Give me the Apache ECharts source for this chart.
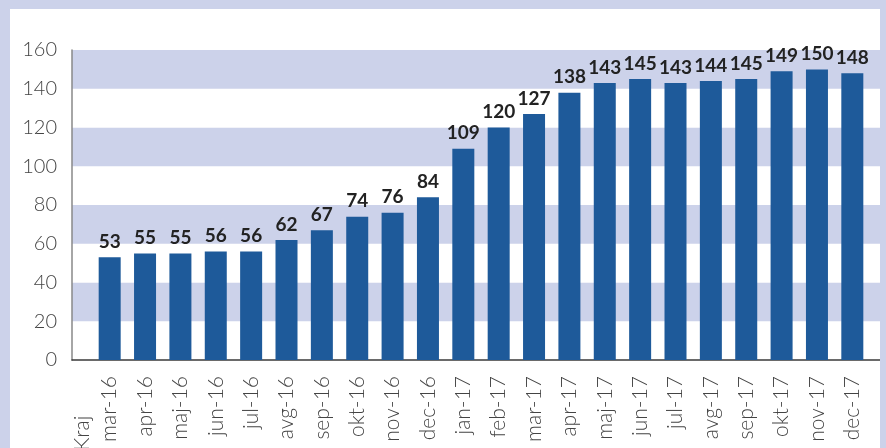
<!DOCTYPE html>
<html>
<head>
<meta charset="utf-8">
<script src="https://cdn.jsdelivr.net/npm/echarts@6/dist/echarts.min.js"></script>
<style>
    html, body { margin: 0; padding: 0; background: #ccd2ea; }
    #chart {
        width: 886px; height: 448px; box-sizing: border-box;
        border-style: solid; border-color: #ccd2ea; border-width: 9px 6px 0 10px;
        background: #fff;
    }
</style>
</head>
<body>
<div id="chart"></div>
<script>
// podatki
const months = ["mar-16", "apr-16", "maj-16", "jun-16", "jul-16", "avg-16", "sep-16", "okt-16",
    "nov-16", "dec-16", "jan-17", "feb-17", "mar-17", "apr-17", "maj-17", "jun-17",
    "jul-17", "avg-17", "sep-17", "okt-17", "nov-17", "dec-17"]
const values = [53, 55, 55, 56, 56, 62, 67, 74, 76, 84, 109, 120, 127, 138, 143, 145,
    143, 144, 145, 149, 150, 148]
const yTicks = [0, 20, 40, 60, 80, 100, 120, 140, 160]

const font = "Lato, 'Open Sans', sans-serif"
let chart = echarts.init(document.getElementById("chart"))
let option = {
    animation: false,
    textStyle: { fontFamily: font },
    grid: [
        { left: 62, right: 0, top: 41, bottom: 88 },   // bands + y axis
        { left: 82, right: 10, top: 41, bottom: 88 }   // bars
    ],
    xAxis: [
        {
            gridIndex: 0, type: "category", data: [""],
            axisLine: { lineStyle: { color: "#3a3a3a", width: 1.5 } },
            axisTick: { show: false }, axisLabel: { show: false }
        },
        {
            gridIndex: 1, type: "category", data: months,
            axisLine: { show: false }, axisTick: { show: false },
            axisLabel: {
                rotate: 90, interval: 0, margin: 16,
                fontSize: 21, color: "#444", fontWeight: 300, fontFamily: font
            }
        }
    ],
    yAxis: [
        {
            gridIndex: 0, type: "value", min: yTicks[0], max: yTicks[yTicks.length - 1], interval: 20,
            axisLine: { show: true, lineStyle: { color: "#888", width: 1.5 } },
            axisTick: { show: false },
            axisLabel: { fontSize: 20, color: "#444", margin: 15, fontWeight: 300, fontFamily: font },
            splitLine: { show: false },
            splitArea: { show: true, areaStyle: { color: ["#ffffff", "#ccd2ea"] } }
        },
        {
            gridIndex: 1, type: "value", min: yTicks[0], max: yTicks[yTicks.length - 1], interval: 20,
            show: false, splitLine: { show: false }
        }
    ],
    series: [
        {
            type: "bar", xAxisIndex: 1, yAxisIndex: 1,
            data: values, barWidth: 22,
            itemStyle: { color: "#1e5a9a" },
            label: {
                show: true, position: "top", distance: 6,
                fontSize: 19, fontWeight: "bold", color: "#222", fontFamily: font
            }
        }
    ],
    graphic: [
        {
            type: "text", x: 62, y: 442, rotation: Math.PI / 2,
            style: { text: "Kraj", font: "300 21px " + font, fill: "#444", textAlign: "left", textVerticalAlign: "top" }
        }
    ]
}
chart.setOption(option)
</script>
</body>
</html>
